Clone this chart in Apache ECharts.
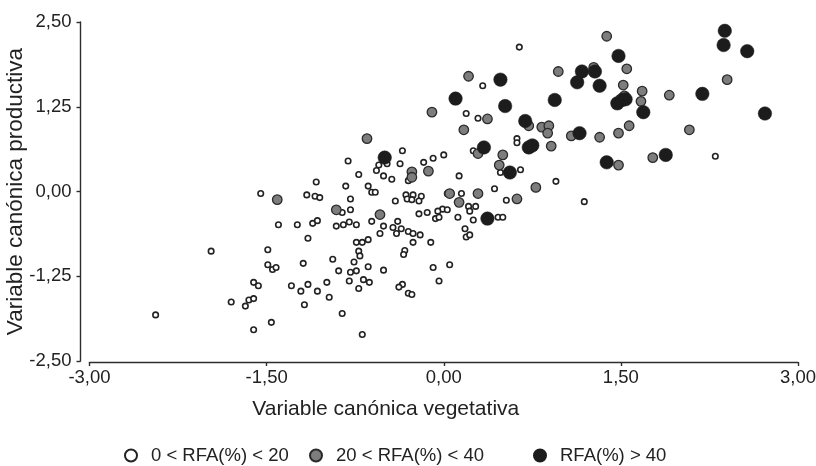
<!DOCTYPE html>
<html>
<head>
<meta charset="utf-8">
<script src="https://cdn.jsdelivr.net/npm/echarts@6/dist/echarts.min.js"></script>
<style>
html,body{margin:0;padding:0;background:#fff;}
#chart{width:816px;height:466px;}
</style>
</head>
<body>
<div id="chart"></div>
<script>
// Series names (legend)
var seriesNames = ['0 < RFA(%) < 20', '20 < RFA(%) < 40', 'RFA(%) > 40'];
var xAxisName = 'Variable canónica vegetativa';
var yAxisName = 'Variable canónica productiva';
var xTicks = [-3, -1.5, 0, 1.5, 3];
var yTicks = [-2.5, -1.25, 0, 1.25, 2.5];

// 0 < RFA(%) < 20 (white)
var lowRFA = [
[0.64,2.13],[0.33,1.56],[0.19,1.15],[0.29,1.08],[0.62,0.78],[0.62,0.72],[0.25,0.60],[-0.35,0.60],[-0.81,0.45],[-0.55,0.39],
[-0.48,0.41],[-0.57,0.31],[-0.37,0.41],[-0.17,0.43],[-0.09,0.49],[0.00,0.54],[0.48,0.28],[0.65,0.32],[-0.30,0.16],[-0.72,0.25],
[-0.51,0.23],[-0.44,0.18],[0.13,0.23],[-1.08,0.14],[-0.83,0.08],[-0.64,0.08],[-0.61,-0.01],[-0.58,-0.01],[-1.16,-0.05],[-1.09,-0.07],
[-1.05,-0.09],[-0.79,-0.11],[-0.32,-0.05],[-0.26,-0.05],[-0.19,-0.07],[-0.41,-0.14],[0.03,-0.03],[0.15,-0.03],[0.43,0.04],[0.95,0.15],
[0.53,-0.13],[2.30,0.52],[1.19,-0.15],[-0.31,-0.11],[-0.27,-0.12],[-0.21,-0.14],[0.21,-0.22],[0.27,-0.22],[0.22,-0.29],[-0.01,-0.26],
[0.03,-0.27],[-0.05,-0.29],[-0.21,-0.33],[-0.14,-0.31],[0.46,-0.38],[0.50,-0.38],[-0.07,-0.40],[-0.04,-0.38],[0.12,-0.38],[0.25,-0.42],
[-0.39,-0.44],[-0.51,-0.51],[-0.43,-0.53],[-0.36,-0.55],[-0.40,-0.62],[-0.30,-0.59],[-0.26,-0.62],[-0.20,-0.64],[-0.54,-0.62],[0.18,-0.55],
[0.19,-0.67],[0.22,-0.64],[-0.26,-0.75],[-0.11,-0.75],[-0.33,-0.87],[-0.34,-0.93],[-0.51,-1.16],[-0.09,-1.12],[0.05,-1.08],[-0.04,-1.32],
[-0.35,-1.37],[-0.38,-1.41],[-0.30,-1.50],[-0.27,-1.52],[-1.55,-0.03],[-0.86,-0.31],[-0.79,-0.27],[-1.40,-0.49],[-1.24,-0.49],[-1.11,-0.47],
[-1.07,-0.43],[-0.91,-0.51],[-0.85,-0.49],[-0.80,-0.45],[-0.74,-0.49],[-0.61,-0.44],[-1.15,-0.69],[-0.74,-0.75],[-0.69,-0.75],[-0.64,-0.71],
[-1.49,-0.86],[-1.97,-0.88],[-0.72,-0.88],[-0.71,-0.95],[-0.94,-1.00],[-0.76,-1.04],[-1.19,-1.06],[-1.49,-1.08],[-1.45,-1.15],[-1.42,-1.12],
[-0.64,-1.11],[-0.89,-1.17],[-0.79,-1.19],[-0.74,-1.17],[-1.61,-1.34],[-1.57,-1.39],[-1.29,-1.39],[-1.21,-1.47],[-1.15,-1.37],[-1.07,-1.47],
[-0.99,-1.34],[-0.80,-1.32],[-0.68,-1.30],[-0.63,-1.34],[-0.72,-1.43],[-0.97,-1.56],[-1.80,-1.63],[-1.65,-1.60],[-1.61,-1.58],[-1.68,-1.69],
[-1.18,-1.67],[-0.86,-1.80],[-2.44,-1.82],[-1.46,-1.93],[-1.61,-2.04],[-0.69,-2.11]
];

// 20 < RFA(%) < 40 (grey)
var midRFA = [
[1.38,2.29],[0.97,1.77],[1.27,1.83],[1.55,1.81],[1.52,1.57],[1.68,1.48],[1.91,1.42],[2.40,1.65],[1.53,1.41],[1.67,1.33],
[0.83,0.95],[0.89,0.97],[0.88,0.86],[0.91,0.67],[1.08,0.82],[1.32,0.80],[1.48,0.86],[1.57,0.97],[2.08,0.91],[1.48,0.39],
[1.77,0.50],[0.21,1.70],[-0.10,1.17],[0.37,1.07],[0.17,0.91],[0.72,0.97],[0.29,0.56],[0.50,0.54],[-0.65,0.78],[0.47,0.39],
[-0.13,0.30],[-0.27,0.29],[-0.27,0.21],[0.05,-0.03],[0.29,-0.03],[0.78,0.06],[0.62,-0.11],[0.13,-0.16],[-1.41,-0.12],[-0.91,-0.27],
[-0.54,-0.34]
];

// RFA(%) > 40 (black)
var highRFA = [
[2.38,2.37],[2.37,2.16],[2.57,2.07],[1.48,2.00],[1.17,1.77],[1.28,1.77],[1.13,1.61],[1.32,1.56],[2.19,1.44],[0.94,1.35],
[1.47,1.30],[1.51,1.35],[1.54,1.36],[1.69,1.17],[2.72,1.15],[1.15,0.86],[1.38,0.43],[1.88,0.54],[0.48,1.65],[0.10,1.37],
[0.52,1.26],[0.69,1.04],[0.34,0.65],[0.72,0.65],[0.75,0.68],[0.56,0.28],[-0.50,0.50],[0.37,-0.40]
];

var FONT = '"Liberation Sans", Arial, sans-serif';
var TXT = '#222';
var LINE = '#2e2e2e';

function fmt(v){ return v.toFixed(2).replace('.', ','); }

var chart = echarts.init(document.getElementById('chart'), null, {renderer:'canvas'});

function legendFor(name, left){
  return {
    data:[name], left:left, top:441, itemWidth:12, itemHeight:12, itemGap:0,
    textStyle:{fontFamily:FONT, fontSize:18.5, color:TXT, padding:[0,0,0,9]},
    selectedMode:false
  };
}

var option = {
  animation:false,
  backgroundColor:'#fff',
  grid:{left:89.5, right:18, top:22, bottom:105, containLabel:false, outerBoundsMode:'none'},
  legend:[legendFor(seriesNames[0],119), legendFor(seriesNames[1],304), legendFor(seriesNames[2],528)],
  xAxis:{
    type:'value', min:xTicks[0], max:xTicks[xTicks.length-1], interval:1.5,
    offset:1,
    name:xAxisName, nameLocation:'middle', nameGap:37, nameMoveOverlap:false,
    nameTextStyle:{fontFamily:FONT, fontSize:21, color:TXT, padding:[0,116,0,0]},
    axisLine:{show:true, onZero:false, lineStyle:{color:LINE, width:1.4}},
    axisTick:{show:true, length:4, lineStyle:{color:LINE, width:1.4}},
    axisLabel:{fontFamily:FONT, fontSize:18.5, color:TXT, margin:6, formatter:fmt},
    splitLine:{show:false}
  },
  yAxis:{
    type:'value', min:yTicks[0], max:yTicks[yTicks.length-1], interval:1.25,
    offset:9,
    name:yAxisName, nameLocation:'middle', nameGap:53, nameMoveOverlap:false,
    nameTextStyle:{fontFamily:FONT, fontSize:22.5, color:TXT},
    axisLine:{show:true, onZero:false, lineStyle:{color:LINE, width:1.4}},
    axisTick:{show:true, length:4, lineStyle:{color:LINE, width:1.4}},
    axisLabel:{fontFamily:FONT, fontSize:18.5, color:TXT, margin:9, formatter:fmt},
    splitLine:{show:false}
  },
  series:[
    {name:seriesNames[0], type:'scatter', data:lowRFA, symbol:'circle', symbolSize:5.5,
     itemStyle:{color:'#ffffff', borderColor:'#222', borderWidth:1.6, opacity:1}},
    {name:seriesNames[1], type:'scatter', data:midRFA, symbol:'circle', symbolSize:9.5,
     itemStyle:{color:'#7d7d7d', borderColor:'#2a2a2a', borderWidth:1.3, opacity:1}},
    {name:seriesNames[2], type:'scatter', data:highRFA, symbol:'circle', symbolSize:13.5,
     itemStyle:{color:'#1c1c1c', borderColor:'#1c1c1c', borderWidth:0.5, opacity:1}}
  ]
};
chart.setOption(option);
</script>
</body>
</html>
